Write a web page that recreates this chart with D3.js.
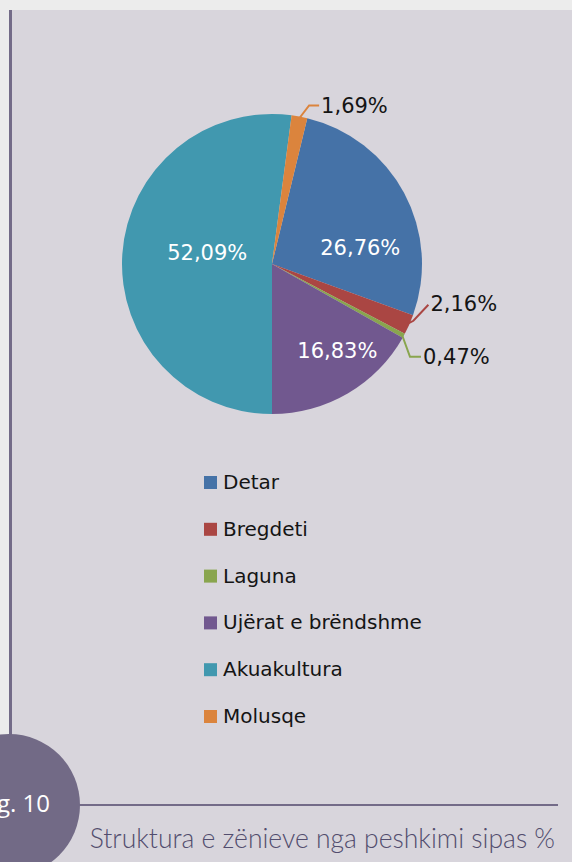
<!DOCTYPE html>
<html lang="sq">
<head>
  <meta charset="UTF-8">
  <title>Struktura e zënieve nga peshkimi sipas %</title>
  <script src="https://d3js.org/d3.v7.min.js"></script>
  <style>
    html, body {
      margin: 0;
      padding: 0;
      background: #ececec;
    }
    svg {
      display: block;
    }
    .pie-label {
      font-family: 'DejaVu Sans', sans-serif;
      font-size: 21px;
    }
    .legend text {
      font-family: 'DejaVu Sans', sans-serif;
      font-size: 20px;
      fill: #141414;
    }
  </style>
</head>
<body>
  <div id="chart"></div>

  <script>
    // data
    const categories = ["Detar", "Bregdeti", "Laguna", "Ujërat e brëndshme", "Akuakultura", "Molusqe"];
    const shares = [26.76, 2.16, 0.47, 16.83, 52.09, 1.69];
    const colors = ["#4572a7", "#aa4643", "#89a54e", "#71588f", "#4198af", "#db843d"];
    const caption = "Struktura e zënieve nga peshkimi sipas %";
    const figLabel = "Fig. 10";

    const W = 572, H = 862;
    const cx = 272, cy = 264, radius = 150;
    const firstSliceDeg = 13.6;

    // which labels sit inside the slice and which get a leader line
    const inside = [true, false, false, true, true, false];
    // nudges for inside labels (from the centroid), leader line bends for outside ones
    const insideNudge = { 0: [9, 26], 3: [20, 9], 4: [25, -6] };
    const leaders = {
      1: [[6, -3], [21, -19], [23, -20]],
      2: [[8, 22], [19, 22], [21, 22]],
      5: [[10, -13], [20, -13], [22, -13]]
    };

    const locale = d3.formatLocale({ decimal: ",", thousands: ".", grouping: [3], currency: ["", "€"] });
    const fmt = v => locale.format(".2f")(v) + "%";

    const svg = d3.select("#chart")
      .append("svg")
      .attr("width", W)
      .attr("height", H);

    // panel
    svg.append("rect")
      .attr("x", 11).attr("y", 10)
      .attr("width", W - 11).attr("height", H - 10)
      .attr("fill", "#d8d5dc");

    svg.append("rect")
      .attr("x", 9).attr("y", 10)
      .attr("width", 3).attr("height", 725)
      .attr("fill", "#736b88");

    // pie
    const start = firstSliceDeg * Math.PI / 180;
    const pie = d3.pie()
      .sort(null)
      .value(d => d)
      .startAngle(start)
      .endAngle(start + 2 * Math.PI);

    const arcs = pie(shares);
    const arc = d3.arc().innerRadius(0).outerRadius(radius);
    const labelArc = d3.arc().innerRadius(90).outerRadius(90);
    const edgeArc = d3.arc().innerRadius(radius - 2).outerRadius(radius - 2);

    const g = svg.append("g")
      .attr("transform", `translate(${cx},${cy})`);

    g.selectAll("path.slice")
      .data(arcs)
      .enter()
      .append("path")
      .attr("class", "slice")
      .attr("d", arc)
      .attr("fill", (d, i) => colors[i]);

    // inside labels
    arcs.forEach((d, i) => {
      if (inside[i]) {
        const [x, y] = labelArc.centroid(d);
        const n = insideNudge[i];
        g.append("text")
          .attr("class", "pie-label")
          .attr("x", x + n[0])
          .attr("y", y + n[1])
          .attr("dy", "0.36em")
          .attr("text-anchor", "middle")
          .attr("fill", "#ffffff")
          .text(fmt(shares[i]));
      } else {
        const [ex, ey] = edgeArc.centroid(d);
        const pts = leaders[i];
        const path = d3.path();
        path.moveTo(ex, ey);
        path.lineTo(ex + pts[0][0], ey + pts[0][1]);
        path.lineTo(ex + pts[1][0], ey + pts[1][1]);
        g.append("path")
          .attr("d", path.toString())
          .attr("fill", "none")
          .attr("stroke", colors[i])
          .attr("stroke-width", 2);
        g.append("text")
          .attr("class", "pie-label")
          .attr("x", ex + pts[2][0])
          .attr("y", ey + pts[2][1])
          .attr("dy", "0.36em")
          .attr("fill", "#141414")
          .text(fmt(shares[i]));
      }
    });

    // legend
    const legendY = d3.scalePoint()
      .domain(categories)
      .range([476, 710]);

    const legend = svg.append("g").attr("class", "legend");
    const item = legend.selectAll("g")
      .data(categories)
      .enter()
      .append("g")
      .attr("transform", d => `translate(204,${legendY(d)})`);

    item.append("rect")
      .attr("width", 13)
      .attr("height", 13)
      .attr("fill", (d, i) => colors[i]);

    item.append("text")
      .attr("x", 19)
      .attr("y", 13)
      .text(d => d);

    // figure badge + caption
    svg.append("line")
      .attr("x1", 60).attr("x2", 558)
      .attr("y1", 805).attr("y2", 805)
      .attr("stroke", "#736b88")
      .attr("stroke-width", 2);

    svg.append("circle")
      .attr("cx", 9).attr("cy", 805)
      .attr("r", 71)
      .attr("fill", "#726a86");

    svg.append("text")
      .attr("x", 50).attr("y", 812)
      .attr("text-anchor", "end")
      .attr("fill", "#ffffff")
      .style("font-family", "'Open Sans', sans-serif")
      .style("font-size", "24px")
      .style("font-weight", 500)
      .text(figLabel);

    svg.append("text")
      .attr("x", 555).attr("y", 848)
      .attr("text-anchor", "end")
      .attr("fill", "#524d6e")
      .style("font-family", "Lato, sans-serif")
      .style("font-size", "26.5px")
      .style("font-weight", 300)
      .text(caption);
  </script>
</body>
</html>
